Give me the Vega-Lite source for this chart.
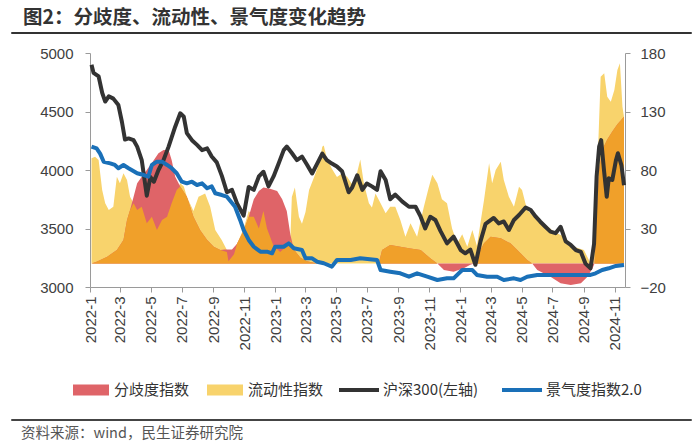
{
"$schema": "https://vega.github.io/schema/vega-lite/v6.json",
"padding": {"left": 10, "right": 10, "top": 7, "bottom": 4},
"config": {"view": {"stroke": null}, "font": "Noto Sans CJK SC"},
"datasets": {
"hs": [{"d":"2022-01-04","v":4900},{"d":"2022-01-08","v":4830},{"d":"2022-01-18","v":4800},{"d":"2022-01-25","v":4660},{"d":"2022-01-31","v":4585},{"d":"2022-02-07","v":4630},{"d":"2022-02-16","v":4610},{"d":"2022-02-26","v":4555},{"d":"2022-03-05","v":4410},{"d":"2022-03-11","v":4260},{"d":"2022-03-18","v":4270},{"d":"2022-03-28","v":4255},{"d":"2022-04-04","v":4200},{"d":"2022-04-13","v":4085},{"d":"2022-04-23","v":3780},{"d":"2022-04-30","v":3940},{"d":"2022-05-07","v":3900},{"d":"2022-05-16","v":4000},{"d":"2022-05-26","v":4085},{"d":"2022-06-05","v":4200},{"d":"2022-06-18","v":4370},{"d":"2022-06-28","v":4485},{"d":"2022-07-05","v":4455},{"d":"2022-07-11","v":4315},{"d":"2022-07-21","v":4255},{"d":"2022-07-31","v":4215},{"d":"2022-08-10","v":4170},{"d":"2022-08-20","v":4185},{"d":"2022-08-29","v":4115},{"d":"2022-09-08","v":4065},{"d":"2022-09-18","v":3950},{"d":"2022-09-28","v":3810},{"d":"2022-10-08","v":3830},{"d":"2022-10-18","v":3715},{"d":"2022-10-31","v":3610},{"d":"2022-11-10","v":3855},{"d":"2022-11-20","v":3830},{"d":"2022-11-30","v":3945},{"d":"2022-12-09","v":3985},{"d":"2022-12-19","v":3860},{"d":"2022-12-29","v":3945},{"d":"2023-01-08","v":4055},{"d":"2023-01-18","v":4170},{"d":"2023-01-24","v":4200},{"d":"2023-02-03","v":4145},{"d":"2023-02-13","v":4085},{"d":"2023-02-23","v":4115},{"d":"2023-03-05","v":4045},{"d":"2023-03-15","v":3970},{"d":"2023-03-25","v":4055},{"d":"2023-04-04","v":4140},{"d":"2023-04-13","v":4085},{"d":"2023-04-23","v":4055},{"d":"2023-05-03","v":4030},{"d":"2023-05-13","v":3990},{"d":"2023-05-26","v":3810},{"d":"2023-06-02","v":3850},{"d":"2023-06-12","v":3955},{"d":"2023-06-22","v":3830},{"d":"2023-07-01","v":3885},{"d":"2023-07-11","v":3860},{"d":"2023-07-21","v":3830},{"d":"2023-07-28","v":3990},{"d":"2023-08-07","v":3915},{"d":"2023-08-16","v":3750},{"d":"2023-08-26","v":3790},{"d":"2023-09-09","v":3730},{"d":"2023-09-22","v":3686},{"d":"2023-10-05","v":3686},{"d":"2023-10-15","v":3601},{"d":"2023-10-24","v":3500},{"d":"2023-11-03","v":3600},{"d":"2023-11-13","v":3573},{"d":"2023-11-23","v":3480},{"d":"2023-12-06","v":3373},{"d":"2023-12-19","v":3430},{"d":"2024-01-02","v":3316},{"d":"2024-01-11","v":3288},{"d":"2024-01-21","v":3320},{"d":"2024-01-31","v":3190},{"d":"2024-02-10","v":3390},{"d":"2024-02-20","v":3540},{"d":"2024-03-07","v":3590},{"d":"2024-03-17","v":3544},{"d":"2024-03-27","v":3560},{"d":"2024-04-06","v":3487},{"d":"2024-04-16","v":3573},{"d":"2024-04-26","v":3615},{"d":"2024-05-09","v":3680},{"d":"2024-05-19","v":3658},{"d":"2024-05-29","v":3601},{"d":"2024-06-07","v":3558},{"d":"2024-06-17","v":3515},{"d":"2024-06-27","v":3473},{"d":"2024-07-07","v":3460},{"d":"2024-07-17","v":3515},{"d":"2024-07-27","v":3390},{"d":"2024-08-06","v":3359},{"d":"2024-08-16","v":3316},{"d":"2024-08-26","v":3300},{"d":"2024-09-04","v":3200},{"d":"2024-09-14","v":3160},{"d":"2024-09-21","v":3370},{"d":"2024-09-26","v":3943},{"d":"2024-10-01","v":4200},{"d":"2024-10-05","v":4256},{"d":"2024-10-11","v":3980},{"d":"2024-10-16","v":3772},{"d":"2024-10-20","v":3930},{"d":"2024-10-27","v":3915},{"d":"2024-11-03","v":4080},{"d":"2024-11-07","v":4143},{"d":"2024-11-14","v":4040},{"d":"2024-11-19","v":3870}],
"jq": [{"d":"2022-01-04","v":100},{"d":"2022-01-14","v":98.5},{"d":"2022-01-21","v":94},{"d":"2022-01-28","v":87},{"d":"2022-02-10","v":85.7},{"d":"2022-02-19","v":84.3},{"d":"2022-02-26","v":81.5},{"d":"2022-03-08","v":84.3},{"d":"2022-03-18","v":81.5},{"d":"2022-03-24","v":80},{"d":"2022-04-04","v":77.2},{"d":"2022-04-17","v":75.7},{"d":"2022-04-26","v":74.3},{"d":"2022-05-03","v":84.3},{"d":"2022-05-13","v":87.1},{"d":"2022-05-23","v":87.1},{"d":"2022-06-02","v":84.3},{"d":"2022-06-11","v":81.5},{"d":"2022-06-21","v":77.2},{"d":"2022-07-01","v":70},{"d":"2022-07-11","v":68.6},{"d":"2022-07-21","v":70},{"d":"2022-07-31","v":67.2},{"d":"2022-08-10","v":68.6},{"d":"2022-08-20","v":64.4},{"d":"2022-08-29","v":66},{"d":"2022-09-05","v":60.1},{"d":"2022-09-18","v":58.6},{"d":"2022-09-28","v":57.2},{"d":"2022-10-14","v":48.6},{"d":"2022-10-24","v":37.3},{"d":"2022-10-31","v":28.7},{"d":"2022-11-10","v":20.2},{"d":"2022-11-20","v":14.4},{"d":"2022-12-03","v":10.2},{"d":"2022-12-16","v":10.2},{"d":"2022-12-26","v":8.8},{"d":"2023-01-01","v":14.4},{"d":"2023-01-18","v":14.4},{"d":"2023-01-28","v":17.3},{"d":"2023-02-07","v":13.1},{"d":"2023-02-23","v":11.6},{"d":"2023-03-02","v":4.5},{"d":"2023-03-15","v":4.5},{"d":"2023-03-25","v":1.6},{"d":"2023-04-07","v":0.3},{"d":"2023-04-23","v":-2.6},{"d":"2023-05-03","v":3.1},{"d":"2023-05-30","v":3.1},{"d":"2023-06-18","v":4.5},{"d":"2023-07-21","v":3.1},{"d":"2023-07-28","v":-5.5},{"d":"2023-08-16","v":-6.9},{"d":"2023-09-05","v":-8.3},{"d":"2023-09-22","v":-11.2},{"d":"2023-10-08","v":-8.3},{"d":"2023-10-28","v":-11.2},{"d":"2023-11-17","v":-14},{"d":"2023-12-06","v":-12.6},{"d":"2023-12-19","v":-12.6},{"d":"2024-01-05","v":-5.5},{"d":"2024-01-25","v":-5.5},{"d":"2024-02-03","v":-9.7},{"d":"2024-02-23","v":-11.2},{"d":"2024-03-14","v":-11.2},{"d":"2024-03-27","v":-14},{"d":"2024-04-16","v":-12.6},{"d":"2024-04-29","v":-14},{"d":"2024-05-12","v":-11.2},{"d":"2024-06-01","v":-9.7},{"d":"2024-06-27","v":-9.7},{"d":"2024-07-24","v":-9.7},{"d":"2024-08-19","v":-9.7},{"d":"2024-09-14","v":-9.7},{"d":"2024-09-24","v":-8.3},{"d":"2024-10-07","v":-5.5},{"d":"2024-10-20","v":-4},{"d":"2024-11-03","v":-2},{"d":"2024-11-19","v":-1.2}],
"liq": [{"d":"2022-01-04","v":90},{"d":"2022-01-11","v":91.3},{"d":"2022-01-18","v":88.5},{"d":"2022-01-25","v":62.9},{"d":"2022-01-31","v":51.5},{"d":"2022-02-07","v":45.8},{"d":"2022-02-16","v":48.6},{"d":"2022-02-23","v":74.3},{"d":"2022-03-01","v":68.6},{"d":"2022-03-08","v":77.2},{"d":"2022-03-15","v":71.5},{"d":"2022-03-21","v":57.2},{"d":"2022-03-28","v":51.5},{"d":"2022-04-04","v":45.8},{"d":"2022-04-13","v":48.6},{"d":"2022-04-23","v":34.4},{"d":"2022-05-03","v":40.1},{"d":"2022-05-13","v":28.7},{"d":"2022-05-23","v":37.3},{"d":"2022-06-02","v":40.1},{"d":"2022-06-11","v":51.5},{"d":"2022-06-21","v":62.9},{"d":"2022-06-28","v":68.6},{"d":"2022-07-05","v":66},{"d":"2022-07-11","v":57.2},{"d":"2022-07-24","v":45},{"d":"2022-08-03","v":57.2},{"d":"2022-08-16","v":60},{"d":"2022-08-26","v":48.6},{"d":"2022-09-05","v":28.7},{"d":"2022-09-18","v":20},{"d":"2022-09-28","v":11.6},{"d":"2022-10-01","v":2},{"d":"2022-10-12","v":8},{"d":"2022-10-18","v":17},{"d":"2022-10-31","v":30},{"d":"2022-11-10","v":45},{"d":"2022-11-20","v":40},{"d":"2022-11-30","v":30},{"d":"2022-12-09","v":45},{"d":"2022-12-16","v":30},{"d":"2022-12-29","v":15},{"d":"2023-01-11","v":10},{"d":"2023-01-24","v":15},{"d":"2023-01-31","v":20},{"d":"2023-02-03","v":57},{"d":"2023-02-09","v":65},{"d":"2023-02-17","v":40},{"d":"2023-02-23","v":34},{"d":"2023-03-02","v":44},{"d":"2023-03-09","v":62.9},{"d":"2023-03-19","v":74},{"d":"2023-03-29","v":85.7},{"d":"2023-04-04","v":99.9},{"d":"2023-04-07","v":101},{"d":"2023-04-13","v":90},{"d":"2023-04-23","v":81},{"d":"2023-05-03","v":74},{"d":"2023-05-13","v":77},{"d":"2023-05-23","v":74.3},{"d":"2023-06-05","v":65.7},{"d":"2023-06-18","v":89},{"d":"2023-06-25","v":68.6},{"d":"2023-07-05","v":51.5},{"d":"2023-07-11","v":48},{"d":"2023-07-18","v":60},{"d":"2023-07-28","v":51.5},{"d":"2023-08-07","v":43},{"d":"2023-08-16","v":48.6},{"d":"2023-08-26","v":48.6},{"d":"2023-09-05","v":37.3},{"d":"2023-09-15","v":23},{"d":"2023-09-25","v":34.4},{"d":"2023-10-08","v":23},{"d":"2023-10-21","v":48},{"d":"2023-10-31","v":65},{"d":"2023-11-07","v":76},{"d":"2023-11-17","v":68.6},{"d":"2023-11-26","v":55},{"d":"2023-12-06","v":51.5},{"d":"2023-12-16","v":30},{"d":"2023-12-26","v":17.3},{"d":"2024-01-05","v":25},{"d":"2024-01-15","v":14.4},{"d":"2024-01-25","v":28.7},{"d":"2024-02-03","v":15},{"d":"2024-02-10","v":35},{"d":"2024-02-17","v":54.4},{"d":"2024-02-27","v":85.7},{"d":"2024-03-04","v":68.6},{"d":"2024-03-11","v":80},{"d":"2024-03-21","v":87.1},{"d":"2024-03-27","v":71.5},{"d":"2024-04-06","v":57.2},{"d":"2024-04-16","v":48.6},{"d":"2024-04-26","v":65.7},{"d":"2024-05-02","v":62.9},{"d":"2024-05-12","v":45.8},{"d":"2024-05-25","v":40.1},{"d":"2024-06-14","v":34.4},{"d":"2024-07-04","v":27.3},{"d":"2024-07-24","v":23},{"d":"2024-08-12","v":14.4},{"d":"2024-09-01","v":11.6},{"d":"2024-09-14","v":0.3},{"d":"2024-09-21","v":30},{"d":"2024-09-27","v":74.3},{"d":"2024-10-04","v":159.7},{"d":"2024-10-11","v":162.6},{"d":"2024-10-17","v":142.6},{"d":"2024-10-24","v":138.4},{"d":"2024-10-31","v":148.4},{"d":"2024-11-06","v":165.5},{"d":"2024-11-11","v":171.2},{"d":"2024-11-16","v":134.1},{"d":"2024-11-19","v":125.5}],
"div": [{"d":"2022-01-04","v":0},{"d":"2022-01-14","v":1.6},{"d":"2022-02-04","v":5.9},{"d":"2022-02-23","v":11.6},{"d":"2022-03-08","v":20.2},{"d":"2022-03-15","v":37.3},{"d":"2022-03-21","v":45.8},{"d":"2022-03-28","v":57.2},{"d":"2022-04-04","v":68.6},{"d":"2022-04-13","v":74.3},{"d":"2022-04-23","v":80},{"d":"2022-05-07","v":88.5},{"d":"2022-05-16","v":94.3},{"d":"2022-05-26","v":97.1},{"d":"2022-06-05","v":97.1},{"d":"2022-06-11","v":88.5},{"d":"2022-06-18","v":74.3},{"d":"2022-06-28","v":66},{"d":"2022-07-11","v":57.2},{"d":"2022-07-24","v":40.1},{"d":"2022-08-06","v":28.7},{"d":"2022-08-20","v":20.2},{"d":"2022-09-02","v":14.4},{"d":"2022-09-15","v":11.6},{"d":"2022-09-24","v":12},{"d":"2022-10-01","v":12},{"d":"2022-10-08","v":12},{"d":"2022-10-18","v":17},{"d":"2022-10-31","v":28},{"d":"2022-11-10","v":40},{"d":"2022-11-20","v":55},{"d":"2022-11-30","v":62},{"d":"2022-12-09","v":65},{"d":"2022-12-22","v":64},{"d":"2023-01-05","v":62},{"d":"2023-01-15","v":55},{"d":"2023-01-24","v":45},{"d":"2023-01-31","v":25},{"d":"2023-02-07","v":12},{"d":"2023-02-20","v":5},{"d":"2023-03-05","v":2},{"d":"2023-03-25","v":0},{"d":"2023-07-21","v":0},{"d":"2023-07-26","v":3},{"d":"2023-07-31","v":11.6},{"d":"2023-08-16","v":15.8},{"d":"2023-09-05","v":14.4},{"d":"2023-09-25","v":13},{"d":"2023-10-15","v":11.6},{"d":"2023-11-03","v":4.5},{"d":"2023-11-17","v":0},{"d":"2023-11-30","v":-5.5},{"d":"2023-12-19","v":-7},{"d":"2024-01-08","v":-4},{"d":"2024-01-21","v":-1},{"d":"2024-01-29","v":0},{"d":"2024-02-03","v":5.9},{"d":"2024-02-17","v":17.3},{"d":"2024-03-01","v":23},{"d":"2024-03-21","v":21.6},{"d":"2024-04-09","v":17.3},{"d":"2024-04-29","v":8.8},{"d":"2024-05-12","v":3.1},{"d":"2024-05-22","v":0},{"d":"2024-06-01","v":-5.5},{"d":"2024-06-27","v":-11.2},{"d":"2024-07-17","v":-16.8},{"d":"2024-08-06","v":-18.3},{"d":"2024-08-26","v":-16.8},{"d":"2024-09-08","v":-11.2},{"d":"2024-09-18","v":-4},{"d":"2024-09-22","v":0},{"d":"2024-09-26","v":40},{"d":"2024-10-01","v":80},{"d":"2024-10-07","v":97},{"d":"2024-10-17","v":106},{"d":"2024-10-27","v":113},{"d":"2024-11-06","v":119},{"d":"2024-11-16","v":124},{"d":"2024-11-19","v":125.5}],
"ov": [{"d":"2022-01-04","v":0},{"d":"2022-01-14","v":1.6},{"d":"2022-02-04","v":5.9},{"d":"2022-02-23","v":11.6},{"d":"2022-03-08","v":20.2},{"d":"2022-03-15","v":37.3},{"d":"2022-03-21","v":45.8},{"d":"2022-03-28","v":51.5},{"d":"2022-04-04","v":45.8},{"d":"2022-04-13","v":48.6},{"d":"2022-04-23","v":34.4},{"d":"2022-05-03","v":40.1},{"d":"2022-05-13","v":28.7},{"d":"2022-05-23","v":37.3},{"d":"2022-06-02","v":40.1},{"d":"2022-06-11","v":51.5},{"d":"2022-06-21","v":62.9},{"d":"2022-06-28","v":66},{"d":"2022-07-11","v":57.2},{"d":"2022-07-24","v":40.1},{"d":"2022-08-06","v":28.7},{"d":"2022-08-20","v":20.2},{"d":"2022-09-02","v":14.4},{"d":"2022-09-15","v":11.6},{"d":"2022-09-28","v":10},{"d":"2022-10-01","v":2},{"d":"2022-10-12","v":8},{"d":"2022-10-18","v":17},{"d":"2022-10-31","v":28},{"d":"2022-11-10","v":40},{"d":"2022-11-20","v":40},{"d":"2022-11-30","v":30},{"d":"2022-12-09","v":45},{"d":"2022-12-16","v":30},{"d":"2022-12-29","v":15},{"d":"2023-01-11","v":10},{"d":"2023-01-24","v":15},{"d":"2023-01-31","v":20},{"d":"2023-02-07","v":12},{"d":"2023-02-20","v":5},{"d":"2023-03-05","v":2},{"d":"2023-03-25","v":0},{"d":"2023-07-21","v":0},{"d":"2023-07-26","v":3},{"d":"2023-07-31","v":11.6},{"d":"2023-08-16","v":15.8},{"d":"2023-09-05","v":14.4},{"d":"2023-09-25","v":13},{"d":"2023-10-15","v":11.6},{"d":"2023-11-03","v":4.5},{"d":"2023-11-17","v":0},{"d":"2024-01-29","v":0},{"d":"2024-02-03","v":5.9},{"d":"2024-02-17","v":17.3},{"d":"2024-03-01","v":23},{"d":"2024-03-21","v":21.6},{"d":"2024-04-09","v":17.3},{"d":"2024-04-29","v":8.8},{"d":"2024-05-12","v":3.1},{"d":"2024-05-22","v":0},{"d":"2024-09-22","v":0},{"d":"2024-09-26","v":40},{"d":"2024-10-01","v":80},{"d":"2024-10-07","v":97},{"d":"2024-10-17","v":106},{"d":"2024-10-27","v":113},{"d":"2024-11-06","v":119},{"d":"2024-11-16","v":124},{"d":"2024-11-19","v":125.5}]
},
"spacing": 10,
"vconcat": [
{
"width": 680, "height": 1,
"data": {"values": [{"k": 1}]},
"mark": {"type": "point", "opacity": 0},
"view": {"stroke": "#333333", "strokeWidth": 1},
"title": {"text": "图2：分歧度、流动性、景气度变化趋势", "orient": "top", "anchor": "start", "dx": 12, "offset": 1, "fontSize": 19.5, "fontWeight": "bold", "font": "Noto Sans CJK SC", "color": "#333333"}
},
{
"spacing": 66,
"vconcat": [
{
"spacing": 0,
"hconcat": [
{"width": 1, "height": 1, "data": {"values": []}, "mark": {"type": "point", "opacity": 0}},
{
"width": 535, "height": 234,
"resolve": {"scale": {"y": "independent"}},
"layer": [
{"data": {"name": "liq"}, "mark": {"type": "area", "opacity": 1},
 "encoding": {
  "x": {"field": "d", "type": "temporal",
   "scale": {"type": "utc", "domain": [{"year": 2022, "month": 1, "date": 1, "utc": true}, {"year": 2024, "month": 11, "date": 21, "utc": true}]},
   "axis": {"title": null, "format": "%Y-%-m", "labelAngle": -90, "tickCount": {"interval": "month", "step": 2}, "grid": false, "domainColor": "#9a9a9a", "tickColor": "#9a9a9a", "tickSize": 5, "labelFontSize": 15, "labelFont": "Liberation Sans", "labelColor": "#404040", "labelPadding": 4, "labelFlush": false, "labelOverlap": false}},
  "y": {"field": "v", "type": "quantitative", "stack": null, "scale": {"domain": [-20, 180], "nice": false},
   "axis": {"orient": "right", "title": null, "values": [-20, 30, 80, 130, 180], "format": "d", "grid": false, "domainColor": "#9a9a9a", "tickColor": "#9a9a9a", "tickSize": 5, "labelFontSize": 15, "labelFont": "Liberation Sans", "labelColor": "#404040", "labelPadding": 10}},
  "fill": {"datum": "流动性指数", "type": "nominal",
   "scale": {"domain": ["分歧度指数", "流动性指数"], "range": ["#df6468", "#f8d36c"]},
   "legend": {"orient": "none", "legendX": 62, "legendY": 340, "direction": "horizontal", "title": null, "symbolType": "M-1,-0.3H1V0.3H-1Z", "symbolSize": 1296, "symbolStrokeWidth": 0, "symbolOpacity": 1, "labelFontSize": 15, "labelFont": "Noto Sans CJK SC", "labelColor": "#333333", "labelOffset": 5, "columnPadding": 17}}
 }},
{"data": {"name": "div"}, "mark": {"type": "area", "opacity": 1},
 "encoding": {
  "x": {"field": "d", "type": "temporal"},
  "y": {"field": "v", "type": "quantitative", "stack": null, "scale": {"domain": [-20, 180], "nice": false}, "axis": null},
  "fill": {"datum": "分歧度指数", "type": "nominal"}
 }},
{"data": {"name": "ov"}, "mark": {"type": "area", "opacity": 1, "color": "#f0a02a"},
 "encoding": {
  "x": {"field": "d", "type": "temporal"},
  "y": {"field": "v", "type": "quantitative", "stack": null, "scale": {"domain": [-20, 180], "nice": false}, "axis": null}
 }},
{"data": {"name": "hs"}, "mark": {"type": "line", "strokeWidth": 4, "strokeJoin": "round"},
 "encoding": {
  "x": {"field": "d", "type": "temporal"},
  "y": {"field": "v", "type": "quantitative", "scale": {"domain": [3000, 5000], "nice": false, "zero": false},
   "axis": {"orient": "left", "title": " ", "titleFontSize": 10, "titlePadding": 17, "values": [3000, 3500, 4000, 4500, 5000], "format": "d", "grid": false, "domainColor": "#9a9a9a", "tickColor": "#9a9a9a", "tickSize": 5, "labelFontSize": 15, "labelFont": "Liberation Sans", "labelColor": "#404040", "labelPadding": 12}},
  "stroke": {"datum": "沪深300(左轴)", "type": "nominal",
   "scale": {"domain": ["沪深300(左轴)", "景气度指数2.0"], "range": ["#333333", "#1a70b8"]},
   "legend": {"orient": "none", "legendX": 326, "legendY": 336, "direction": "horizontal", "title": null, "symbolType": "stroke", "symbolSize": 1600, "symbolStrokeWidth": 4, "labelFontSize": 15, "labelFont": "Noto Sans CJK SC", "labelColor": "#333333", "labelOffset": 2, "columnPadding": 15}}
 }},
{"data": {"name": "jq"}, "mark": {"type": "line", "strokeWidth": 4, "strokeJoin": "round"},
 "encoding": {
  "x": {"field": "d", "type": "temporal"},
  "y": {"field": "v", "type": "quantitative", "scale": {"domain": [-20, 180], "nice": false}, "axis": null},
  "stroke": {"datum": "景气度指数2.0", "type": "nominal"}
 }}
]
}
]
},
{
"width": 680, "height": 1,
"data": {"values": [{"k": 1}]},
"mark": {"type": "point", "opacity": 0},
"view": {"stroke": "#444444", "strokeWidth": 1},
"title": {"text": "资料来源：wind，民生证券研究院", "orient": "bottom", "anchor": "start", "dx": 10, "offset": 5, "fontSize": 14.5, "fontWeight": "normal", "font": "Noto Sans CJK SC", "color": "#555555"}
}
]
}
]
}
